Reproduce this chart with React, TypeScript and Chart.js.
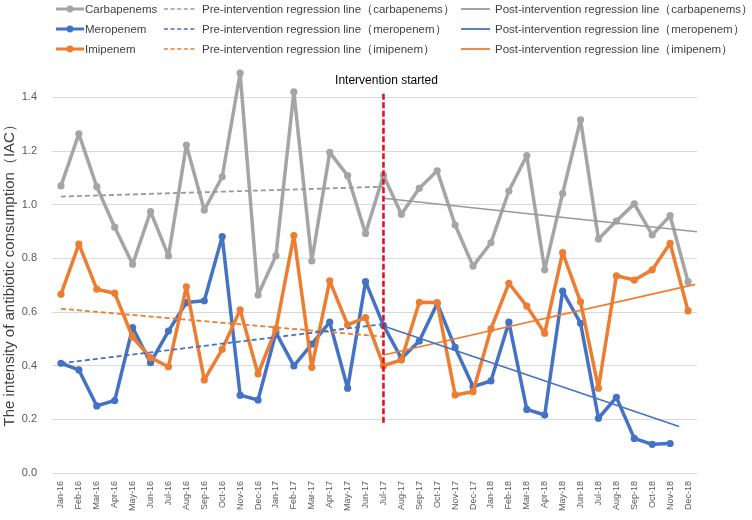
import React, { useEffect, useRef } from 'react';
import { Chart, registerables } from 'chart.js';
Chart.register(...registerables);

const months = [
  'Jan-16', 'Feb-16', 'Mar-16', 'Apr-16', 'May-16', 'Jun-16', 'Jul-16', 'Aug-16', 'Sep-16', 'Oct-16', 'Nov-16', 'Dec-16',
  'Jan-17', 'Feb-17', 'Mar-17', 'Apr-17', 'May-17', 'Jun-17', 'Jul-17', 'Aug-17', 'Sep-17', 'Oct-17', 'Nov-17', 'Dec-17',
  'Jan-18', 'Feb-18', 'Mar-18', 'Apr-18', 'May-18', 'Jun-18', 'Jul-18', 'Aug-18', 'Sep-18', 'Oct-18', 'Nov-18', 'Dec-18',
];

const carbapenems = [
  1.07, 1.264, 1.067, 0.916, 0.778, 0.974, 0.809, 1.222, 0.98, 1.104, 1.49, 0.663,
  0.81, 1.42, 0.79, 1.195, 1.108, 0.893, 1.11, 0.964, 1.061, 1.126, 0.924, 0.771,
  0.858, 1.051, 1.183, 0.757, 1.042, 1.316, 0.872, 0.939, 1.003, 0.887, 0.959, 0.713,
];
const meropenem = [
  0.409, 0.384, 0.25, 0.27, 0.542, 0.411, 0.529, 0.635, 0.642, 0.881, 0.29, 0.272,
  0.523, 0.399, 0.48, 0.562, 0.316, 0.713, 0.55, 0.427, 0.492, 0.632, 0.468, 0.322,
  0.343, 0.562, 0.237, 0.216, 0.678, 0.558, 0.204, 0.282, 0.129, 0.107, 0.11, null,
];
const imipenem = [
  0.666, 0.853, 0.685, 0.67, 0.506, 0.43, 0.396, 0.694, 0.347, 0.461, 0.608, 0.369,
  0.537, 0.885, 0.394, 0.716, 0.552, 0.579, 0.4, 0.421, 0.636, 0.635, 0.291, 0.303,
  0.537, 0.707, 0.622, 0.521, 0.821, 0.638, 0.316, 0.735, 0.719, 0.757, 0.856, 0.604,
];

// regression line end points (x = month index, y = value)
const preCarbX = [0, 18];
const preCarbY = [1.03, 1.067];
const postCarbX = [18, 35.5];
const postCarbY = [1.024, 0.899];
const preMeroX = [0, 18];
const preMeroY = [0.409, 0.555];
const postMeroX = [18, 34.5];
const postMeroY = [0.548, 0.173];
const preImiX = [0, 18];
const preImiY = [0.612, 0.508];
const postImiX = [18, 35.4];
const postImiY = [0.44, 0.703];

// intervention marker
const interventionIndex = 18;
const interventionY = [0.187, 1.42];
const interventionText = 'Intervention started';

const yTicks = [0, 0.2, 0.4, 0.6, 0.8, 1.0, 1.2, 1.4];

const GRAY = '#a5a5a5';
const BLUE = '#4472c4';
const ORANGE = '#ed7d31';
const RED = '#e3121b';

const pts = (xs: number[], ys: number[]) => xs.map((x, i) => ({ x, y: ys[i] }));
const series = (vals: (number | null)[]) => vals.map((v, i) => ({ x: i, y: v }));

const labelPlugin = {
  id: 'interventionLabel',
  afterDatasetsDraw(chart: any) {
    const { ctx, scales } = chart;
    const x = scales.x.getPixelForValue(interventionIndex);
    const y = scales.y.getPixelForValue(interventionY[1]);
    ctx.save();
    ctx.font = '12px "Liberation Sans", Arial, sans-serif';
    ctx.fillStyle = '#000000';
    ctx.textAlign = 'center';
    ctx.textBaseline = 'middle';
    ctx.fillText(interventionText, x + 3, y - 11);
    ctx.restore();
  },
};

const legendRows = [
  { color: GRAY, name: 'Carbapenems', pre: 'Pre-intervention regression line（carbapenems）', post: 'Post-intervention regression line（carbapenems）' },
  { color: BLUE, name: 'Meropenem', pre: 'Pre-intervention regression line（meropenem）', post: 'Post-intervention regression line（meropenem）' },
  { color: ORANGE, name: 'Imipenem', pre: 'Pre-intervention regression line（imipenem）', post: 'Post-intervention regression line（imipenem）' },
];

export default function App() {
  const ref = useRef<HTMLCanvasElement>(null);
  useEffect(() => {
    document.body.style.margin = '0';
    const canvas = ref.current!;
    const mainLine = (label: string, data: any, color: string, order: number) => ({
      label, data, borderColor: color, backgroundColor: color, borderWidth: 3.5,
      borderJoinStyle: 'round', borderCapStyle: 'round',
      pointRadius: 3.6, pointBackgroundColor: color, pointBorderWidth: 0, tension: 0, clip: false as any, order,
    });
    const regLine = (label: string, data: any, color: string, dashed: boolean) => ({
      label, data, borderColor: color, borderWidth: dashed ? 1.8 : 1.6, borderDash: dashed ? [5, 3] : [],
      pointRadius: 0, tension: 0, clip: false as any, order: 1,
    });
    const chart = new Chart(canvas, {
      type: 'line',
      data: {
        datasets: [
          {
            label: 'Intervention', data: interventionY.map((y) => ({ x: interventionIndex, y })),
            borderColor: RED, borderWidth: 2.6, borderDash: [6, 2.5], pointRadius: 0, order: 0, clip: false as any,
          },
          regLine('preCarb', pts(preCarbX, preCarbY), '#9a9a9a', true),
          regLine('postCarb', pts(postCarbX, postCarbY), '#9a9a9a', false),
          regLine('preMero', pts(preMeroX, preMeroY), BLUE, true),
          regLine('postMero', pts(postMeroX, postMeroY), BLUE, false),
          regLine('preImi', pts(preImiX, preImiY), ORANGE, true),
          regLine('postImi', pts(postImiX, postImiY), ORANGE, false),
          mainLine('Imipenem', series(imipenem), ORANGE, 2),
          mainLine('Meropenem', series(meropenem), BLUE, 3),
          mainLine('Carbapenems', series(carbapenems), GRAY, 4),
        ] as any,
      },
      options: {
        animation: false,
        responsive: false,
        layout: { padding: { left: 0, right: 55, top: 70.5, bottom: 0 } },
        plugins: { legend: { display: false }, tooltip: { enabled: false } },
        scales: {
          x: {
            type: 'linear', min: -0.5, max: 35.5,
            grid: { display: false }, border: { display: false },
            afterBuildTicks: (s: any) => { s.ticks = months.map((_, i) => ({ value: i })); },
            afterFit: (s: any) => { s.height = 47; },
            ticks: {
              autoSkip: false, maxRotation: 90, minRotation: 90, padding: 0,
              color: '#595959', font: { family: '"Liberation Sans", Arial', size: 9 },
              callback: (v: any) => months[Math.round(Number(v))] ?? '',
            },
          },
          y: {
            min: 0, max: 1.5,
            grid: { color: '#d9d9d9', lineWidth: 1, drawTicks: false }, border: { display: false },
            afterBuildTicks: (s: any) => { s.ticks = yTicks.map((value) => ({ value })); },
            afterFit: (s: any) => { s.width = 52; },
            ticks: {
              padding: 15, color: '#595959',
              font: { family: '"Liberation Sans", Arial', size: 11 },
              callback: (v: any) => Number(v).toFixed(1),
            },
            title: {
              display: true, text: 'The intensity of antibiotic consumption（IAC）',
              color: '#404040', font: { family: '"Liberation Sans", Arial', size: 15 }, padding: { top: 1, bottom: 0 },
            },
          },
        },
      } as any,
      plugins: [labelPlugin],
    });
    return () => chart.destroy();
  }, []);

  const textStyle: React.CSSProperties = {
    position: 'absolute', fontSize: 11.5, color: '#404040', whiteSpace: 'nowrap', lineHeight: '14px',
  };
  const rowY = [9, 29.3, 49.3];
  return (
    <div style={{ position: 'relative', width: 752, height: 520, fontFamily: '"Liberation Sans", Arial, sans-serif' }}>
      <canvas ref={ref} width={752} height={520} style={{ position: 'absolute', left: 0, top: 0 }} />
      {legendRows.map((r, i) => {
        const cy = rowY[i];
        return (
          <React.Fragment key={r.name}>
            <svg style={{ position: 'absolute', left: 55, top: cy - 5, overflow: 'visible' }} width={30} height={10}>
              <line x1={1} y1={5} x2={29} y2={5} stroke={r.color} strokeWidth={3} />
              <circle cx={15} cy={5} r={3.4} fill={r.color} />
            </svg>
            <div style={{ ...textStyle, left: 85, top: cy - 7 }}>{r.name}</div>
            <svg style={{ position: 'absolute', left: 164, top: cy - 5, overflow: 'visible' }} width={34} height={10}>
              <line x1={0} y1={5} x2={33} y2={5} stroke={i === 0 ? '#9a9a9a' : r.color} strokeWidth={1.6} strokeDasharray="4 2.6" />
            </svg>
            <div style={{ ...textStyle, left: 202, top: cy - 7 }}>{r.pre}</div>
            <svg style={{ position: 'absolute', left: 461, top: cy - 5, overflow: 'visible' }} width={30} height={10}>
              <line x1={0} y1={5} x2={29} y2={5} stroke={i === 0 ? '#9a9a9a' : r.color} strokeWidth={1.8} />
            </svg>
            <div style={{ ...textStyle, left: 495, top: cy - 7 }}>{r.post}</div>
          </React.Fragment>
        );
      })}
    </div>
  );
}
